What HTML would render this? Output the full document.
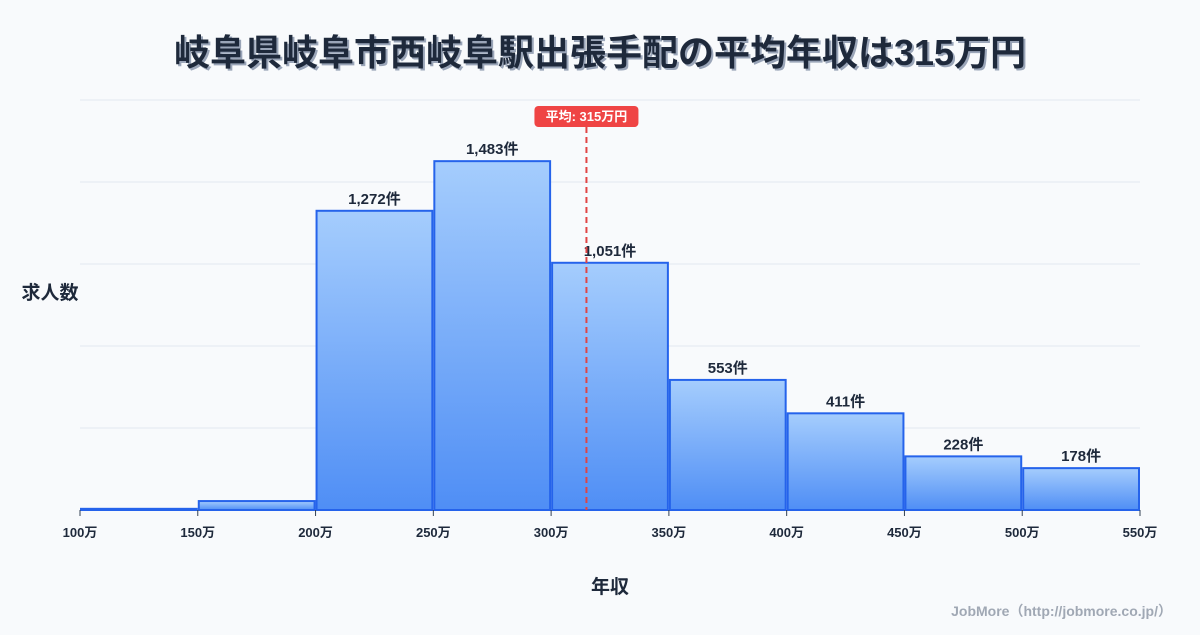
<!DOCTYPE html>
<html><head><meta charset="utf-8">
<style>
html,body{margin:0;padding:0;background:#f8fafc;}
body{width:1200px;height:630px;overflow:hidden;font-family:"Liberation Sans","Noto Sans CJK JP",sans-serif;}
</style></head>
<body>
<svg width="1200" height="630" xmlns="http://www.w3.org/2000/svg" style="font-family:'Liberation Sans','Noto Sans CJK JP',sans-serif">
<defs>
<linearGradient id="bg" x1="0" y1="0" x2="0" y2="1">
<stop offset="0" stop-color="#a5cdfd"/><stop offset="1" stop-color="#4f8ef5"/>
</linearGradient>
</defs>
<rect width="1200" height="630" fill="#f8fafc"/>
<text x="602" y="67" text-anchor="middle" font-size="36" font-weight="bold" fill="#9aa5b8" >岐阜県岐阜市西岐阜駅出張手配の平均年収は315万円</text>
<text x="600" y="65" text-anchor="middle" font-size="36" font-weight="bold" fill="#1e293b">岐阜県岐阜市西岐阜駅出張手配の平均年収は315万円</text>
<g id="grid"></g>
<g id="bars"></g>
<g id="xt"></g>
<text x="50" y="299" text-anchor="middle" font-size="19" font-weight="bold" fill="#1e293b">求人数</text>
<text x="610" y="593" text-anchor="middle" font-size="19" font-weight="bold" fill="#1e293b">年収</text>
<text x="1172" y="616" text-anchor="end" font-size="14" font-weight="bold" fill="#a0a8b4">JobMore（http://jobmore.co.jp/）</text>
<g id="mean"></g>
</svg>
<script>
const binStarts=[100,150,200,250,300,350,400,450,500];
const counts=[5,38,1272,1483,1051,553,411,228,178];
const labels=["","","1,272件","1,483件","1,051件","553件","411件","228件","178件"];
const xTicks=[100,150,200,250,300,350,400,450,500,550];
const meanValue=315;
const NS="http://www.w3.org/2000/svg";
const X0=80,X1=1140,Y0=510,Y1=100,xmin=100,xmax=550,ymax=1743;
const xs=v=>X0+(v-xmin)/(xmax-xmin)*(X1-X0);
const ys=v=>Y0-v/ymax*(Y0-Y1);
function mk(t,a,p){const e=document.createElementNS(NS,t);for(const k in a)e.setAttribute(k,a[k]);p.appendChild(e);return e;}
const grid=document.getElementById('grid');
for(let i=0;i<=5;i++){const y=Y1+i*(Y0-Y1)/5;const l=mk('line',{x1:X0,x2:X1,y1:y,y2:y,stroke:'#e2e8f0','stroke-width':1},grid);

}
const bars=document.getElementById('bars');
binStarts.forEach((b,i)=>{
const x=xs(b)+1,w=xs(b+50)-xs(b)-2,y=ys(counts[i]);
const r=mk('rect',{x:x,y:y,width:w,height:Y0-y,fill:'url(#bg)',stroke:'#2563eb','stroke-width':2},bars);


if(labels[i]){const t=mk('text',{x:x+w/2,y:y-7,'text-anchor':'middle','font-size':15,'font-weight':'bold',fill:'#1e293b'},bars);t.textContent=labels[i];

}
});
const xt=document.getElementById('xt');
xTicks.forEach(v=>{const x=xs(v);
const l=mk('line',{x1:x,x2:x,y1:Y0,y2:Y0+6,stroke:'#334155','stroke-width':1},xt);


const t=mk('text',{x:x,y:Y0+27,'text-anchor':'middle','font-size':13,'font-weight':'bold',fill:'#1e293b'},xt);t.textContent=v+'万';

});
const m=document.getElementById('mean');const mx=xs(meanValue);
const ml=mk('line',{x1:mx,x2:mx,y1:127,y2:Y0,stroke:'#e04444','stroke-width':2,'stroke-dasharray':'6,4'},m);


const mb=mk('rect',{x:mx-52,y:106,width:104,height:21,rx:4,fill:'#ef4444'},m);


const mt=mk('text',{x:mx,y:121,'text-anchor':'middle','font-size':13,'font-weight':'bold',fill:'#fff'},m);mt.textContent='平均: '+meanValue+'万円';


</script>
</body></html>
